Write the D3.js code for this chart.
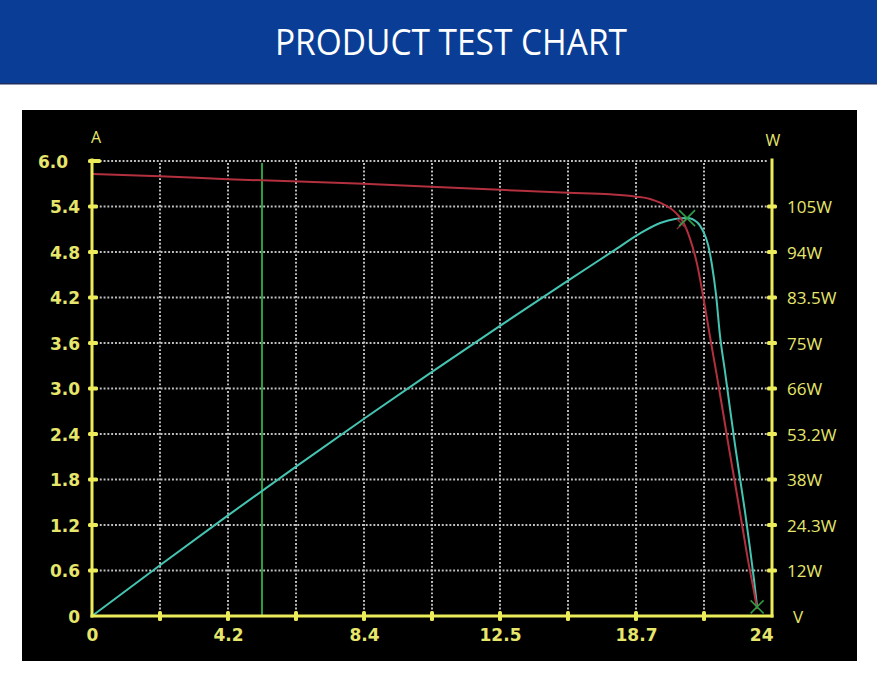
<!DOCTYPE html>
<html><head><meta charset="utf-8">
<script src="https://cdn.jsdelivr.net/npm/d3@7"></script>
<style>html,body{margin:0;padding:0;background:#fff;} svg{display:block}</style>
</head><body>
<svg id="chart" width="877" height="700"></svg>
<script>
// ---------- data ----------
const titleText = "PRODUCT TEST CHART";
const xTickValues = [0, 4.2, 8.4, 12.5, 18.7, 24];
const xTickLabels = ["0", "4.2", "8.4", "12.5", "18.7", "24"];
const currentTicks = [0, 0.6, 1.2, 1.8, 2.4, 3.0, 3.6, 4.2, 4.8, 5.4, 6.0];
const currentLabels = ["0", "0.6", "1.2", "1.8", "2.4", "3.0", "3.6", "4.2", "4.8", "5.4", "6.0"];
const powerTicks = [0, 12, 24.3, 38, 53.2, 66, 75, 83.5, 94, 105, 116];
const powerLabels = ["", "12W", "24.3W", "38W", "53.2W", "66W", "75W", "83.5W", "94W", "105W", ""];
const unitCurrent = "A", unitPower = "W", unitVoltage = "V";

// I-V curve (red)
const ivVoltage = [0, 2.10, 4.2, 8.4, 12.5, 15.6, 17.51, 18.7, 19.25, 19.64, 20.03, 20.30, 20.53, 20.80, 21.08, 21.31, 21.58, 21.86, 22.09, 22.32, 22.56, 22.83, 23.10, 23.30, 23.42];
const ivCurrent = [5.83, 5.80, 5.76, 5.70, 5.62, 5.58, 5.56, 5.53, 5.50, 5.45, 5.38, 5.30, 5.20, 4.98, 4.64, 4.23, 3.69, 3.15, 2.69, 2.22, 1.75, 1.21, 0.67, 0.32, 0.09];
// P-V curve (cyan)
const pvVoltage = [0, 2.10, 4.20, 6.30, 8.40, 10.45, 12.5, 15.6, 17.65, 18.86, 19.64, 20.22, 20.69, 21.08, 21.31, 21.51, 21.66, 21.82, 21.97, 22.17, 22.36, 22.56, 22.75, 22.95, 23.14, 23.30, 23.42];
const pvPower = [0, 13.4, 27.2, 42.3, 57.5, 69.3, 78.2, 87.4, 94.2, 98.5, 101.0, 102.0, 102.2, 101.2, 99.1, 95.7, 91.0, 84.1, 76.5, 69.3, 60.5, 49.5, 38.5, 28.2, 18.1, 9.5, 2.4];

const cursorVoltage = 5.25;
const mppIV = { v: 20.49, i: 5.17 };
const mppPV = { v: 20.69, p: 102.2 };
const endPV = { v: 23.42, p: 2.4 };

// ---------- layout ----------
const W = 877, H = 700;
const headerH = 83;
const panel = { x: 22, y: 110, w: 835, h: 551 };
const plot = { left: 92, right: 772, top: 161, bottom: 616 };
const yellow = "#ecec5a", labelYellow = "#e6e66c";

const svg = d3.select("#chart");
svg.append("rect").attr("width", W).attr("height", H).attr("fill", "#ffffff");
svg.append("rect").attr("width", W).attr("height", headerH).attr("fill", "#0a3e96");
svg.append("rect").attr("y", headerH).attr("width", W).attr("height", 1.5).attr("fill", "#1c2f5e");
svg.append("text").attr("x", 451).attr("y", 55).attr("text-anchor", "middle")
  .attr("font-family", "'Open Sans', sans-serif").attr("font-size", 36)
  .attr("textLength", 352).attr("lengthAdjust", "spacingAndGlyphs")
  .attr("fill", "#ffffff").text(titleText);

svg.append("rect").attr("x", panel.x).attr("y", panel.y).attr("width", panel.w).attr("height", panel.h).attr("fill", "#000");

// ---------- scales ----------
const x = d3.scaleLinear().domain(xTickValues)
  .range(xTickValues.map((d, i) => plot.left + i * (plot.right - plot.left) / (xTickValues.length - 1)));
const yI = d3.scaleLinear().domain([currentTicks[0], currentTicks[currentTicks.length - 1]]).range([plot.bottom, plot.top]);
const yP = d3.scaleLinear().domain(powerTicks).range(currentTicks.map(yI));

const xMid = d3.pairs(xTickValues).map(([a, b]) => (a + b) / 2);
const xGrid = xTickValues.concat(xMid).sort((a, b) => a - b).filter(v => v > xTickValues[0] && v < xTickValues[xTickValues.length - 1]);

// ---------- grid ----------
const grid = svg.append("g").attr("stroke", "#c2c2c2").attr("stroke-width", 1.9).attr("stroke-dasharray", "1.9 1.9");
grid.selectAll("line.h").data(currentTicks.slice(1)).join("line").attr("class", "h")
  .attr("x1", plot.left + 4).attr("x2", plot.right - 4)
  .attr("y1", d => yI(d)).attr("y2", d => yI(d));
grid.selectAll("line.v").data(xGrid).join("line").attr("class", "v")
  .attr("x1", d => x(d)).attr("x2", d => x(d))
  .attr("y1", plot.top + 2).attr("y2", plot.bottom - 3);

// ---------- curves ----------
const ivData = ivVoltage.map((v, i) => ({ v, i: ivCurrent[i] }));
const pvData = pvVoltage.map((v, i) => ({ v, p: pvPower[i] }));

svg.append("line").attr("x1", x(cursorVoltage)).attr("x2", x(cursorVoltage))
  .attr("y1", yI(6.0) + 2).attr("y2", plot.bottom - 1)
  .attr("stroke", "#2e9c3e").attr("stroke-width", 2);

svg.append("path").datum(pvData)
  .attr("d", d3.line().x(d => x(d.v)).y(d => yP(d.p)).curve(d3.curveMonotoneX))
  .attr("fill", "none").attr("stroke", "#45c4b2").attr("stroke-width", 2);
svg.append("path").datum(ivData)
  .attr("d", d3.line().x(d => x(d.v)).y(d => yI(d.i)).curve(d3.curveMonotoneX))
  .attr("fill", "none").attr("stroke", "#b3303e").attr("stroke-width", 2);

function cross(cx, cy, r, color, w) {
  svg.append("path")
    .attr("d", `M${cx - r},${cy - r}L${cx + r},${cy + r}M${cx - r},${cy + r}L${cx + r},${cy - r}`)
    .attr("stroke", color).attr("stroke-width", w).attr("fill", "none");
}
cross(x(mppIV.v), yI(mppIV.i), 5, "#8e2a3a", 1.4);
cross(x(mppPV.v), yP(mppPV.p), 8, "#2f9e44", 1.6);
cross(x(endPV.v), yP(endPV.p), 6.5, "#2f9e44", 1.5);

// ---------- axes ----------
const numFont = "'DejaVu Sans', sans-serif";
const gL = svg.append("g").attr("transform", `translate(${plot.left},0)`)
  .call(d3.axisLeft(yI).tickValues(currentTicks).tickFormat((d, i) => currentLabels[i]).tickSize(0).tickPadding(12));
gL.select(".domain").remove();
gL.selectAll("text").attr("font-family", numFont).attr("font-weight", "bold").attr("font-size", 17)
  .attr("fill", labelYellow).attr("dy", "0.38em")
  .attr("dx", (d, i) => i === currentTicks.length - 1 ? -12 : 0);

const gR = svg.append("g").attr("transform", `translate(${plot.right},0)`)
  .call(d3.axisRight(yP).tickValues(powerTicks).tickFormat((d, i) => powerLabels[i]).tickSize(0).tickPadding(15));
gR.select(".domain").remove();
gR.selectAll("text").attr("font-family", "'Open Sans', sans-serif").attr("font-size", 17)
  .attr("fill", labelYellow).attr("dy", "0.36em");

const gB = svg.append("g").attr("transform", `translate(0,${plot.bottom})`)
  .call(d3.axisBottom(x).tickValues(xTickValues).tickFormat((d, i) => xTickLabels[i]).tickSize(0).tickPadding(13));
gB.select(".domain").remove();
gB.selectAll("text").attr("font-family", numFont).attr("font-weight", "bold").attr("font-size", 17)
  .attr("fill", labelYellow)
  .attr("text-anchor", (d, i) => i === xTickValues.length - 1 ? "end" : "middle")
  .attr("dx", (d, i) => i === xTickValues.length - 1 ? 1 : 0);

// axis lines
const ax = svg.append("g").attr("stroke", yellow).attr("stroke-width", 3).attr("stroke-linecap", "square");
ax.append("line").attr("x1", plot.left).attr("x2", plot.left).attr("y1", plot.top - 1).attr("y2", plot.bottom);
ax.append("line").attr("x1", plot.right).attr("x2", plot.right).attr("y1", plot.top - 1).attr("y2", plot.bottom);
ax.append("line").attr("x1", plot.left).attr("x2", plot.right).attr("y1", plot.bottom).attr("y2", plot.bottom);

// tick marks
const tk = svg.append("g").attr("fill", yellow);
tk.selectAll("rect.l").data(currentTicks.slice(1)).join("rect").attr("class", "l")
  .attr("x", plot.left - 4).attr("width", (d, i, n) => i === n.length - 1 ? 13 : 10)
  .attr("y", d => yI(d) - 2).attr("height", 4).attr("rx", 1.5);
tk.selectAll("rect.r").data(powerTicks.slice(1, -1)).join("rect").attr("class", "r")
  .attr("x", plot.right - 5).attr("width", 10)
  .attr("y", d => yP(d) - 2).attr("height", 4).attr("rx", 1.5);
tk.selectAll("rect.b").data(xGrid).join("rect").attr("class", "b")
  .attr("x", d => x(d) - 2).attr("width", 4)
  .attr("y", plot.bottom - 5).attr("height", 10).attr("rx", 1.5);

// unit labels
const unitFont = "'Open Sans', sans-serif";
svg.append("text").attr("x", plot.left + 4).attr("y", 143).attr("text-anchor", "middle")
  .attr("font-family", unitFont).attr("font-size", 16).attr("fill", labelYellow).text(unitCurrent);
svg.append("text").attr("x", plot.right + 1).attr("y", 146).attr("text-anchor", "middle")
  .attr("font-family", unitFont).attr("font-size", 16).attr("fill", labelYellow).text(unitPower);
svg.append("text").attr("x", plot.right + 26).attr("y", 623).attr("text-anchor", "middle")
  .attr("font-family", unitFont).attr("font-size", 17).attr("fill", labelYellow).text(unitVoltage);
</script>
</body></html>
